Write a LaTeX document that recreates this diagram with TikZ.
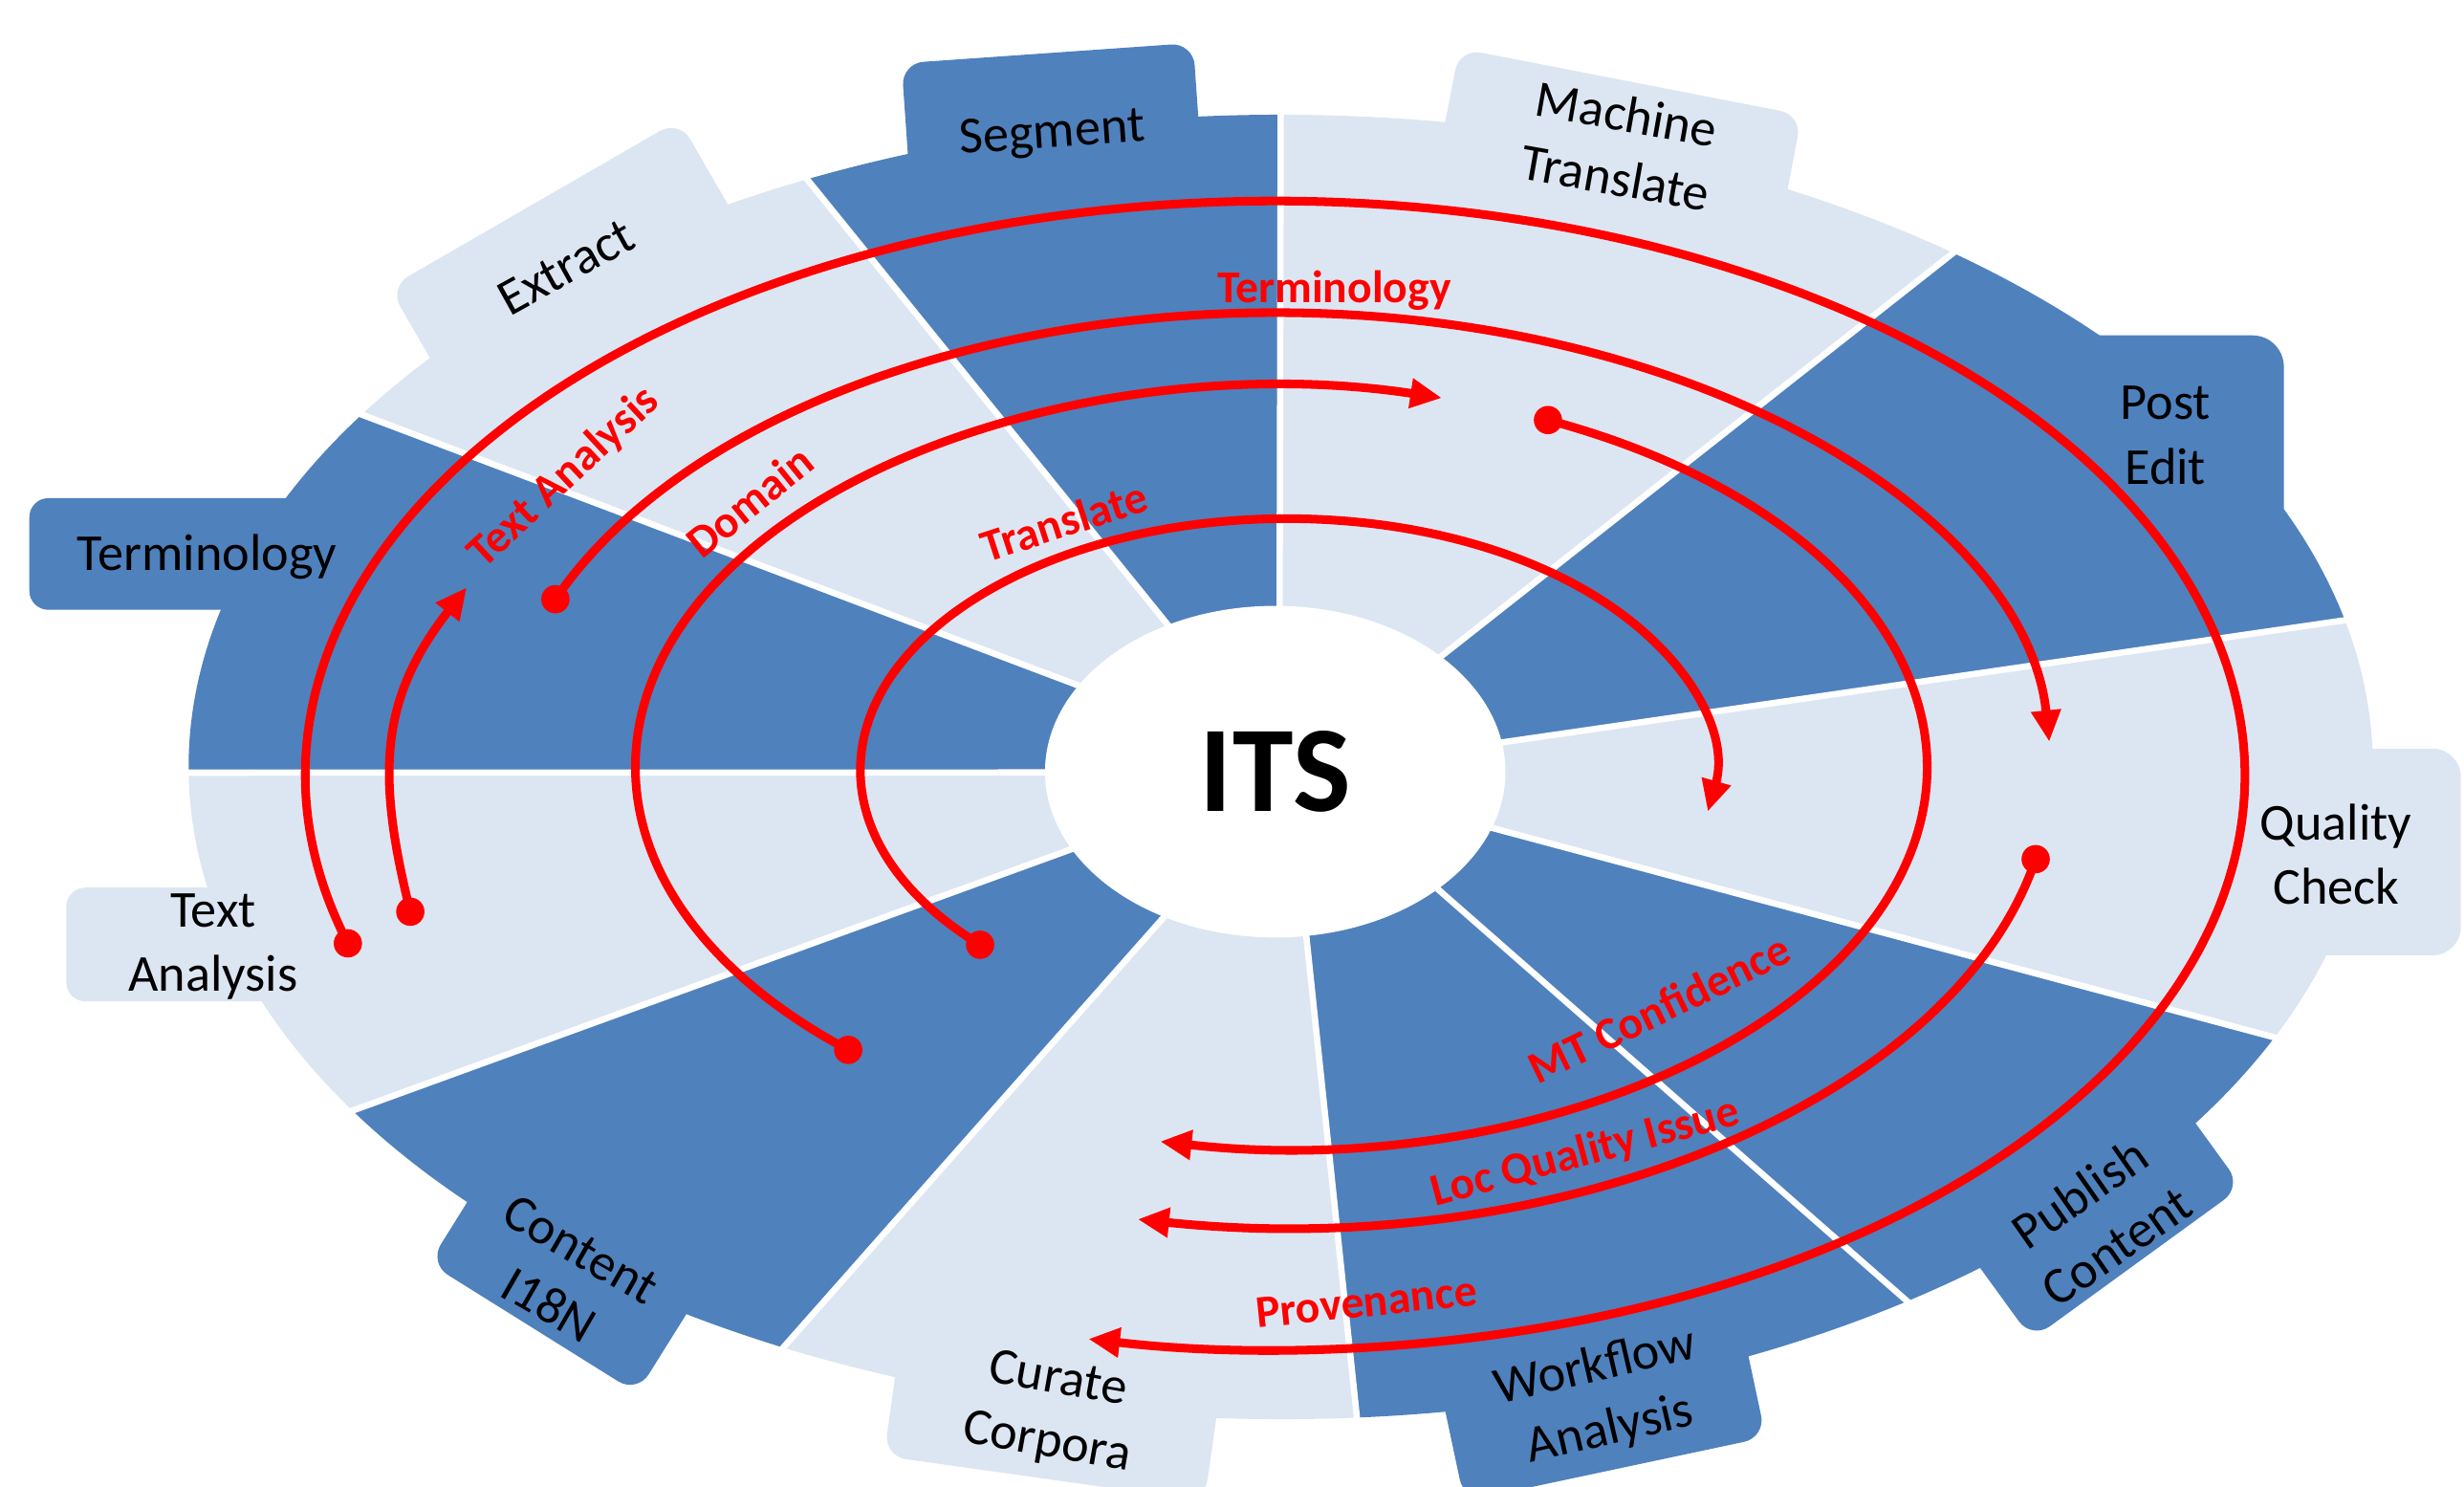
\documentclass[tikz,border=0pt]{standalone}
\usepackage{fontspec}
\setmainfont{Carlito}
\usetikzlibrary{calc,arrows.meta,shapes.geometric}
\definecolor{darkb}{HTML}{4F81BD}
\definecolor{lightb}{HTML}{DCE6F2}
\definecolor{fred}{HTML}{FF0000}
\newcommand\mysector[5]{%
  \fill[#1] (C) -- (J#2) -- (B#2) arc[start angle=#4, end angle=#5, x radius=695, y radius=415] -- (J#3) -- cycle;}
\begin{document}
\begin{tikzpicture}[x=1pt,y=1pt,
  tab/.style={rounded corners=14pt, inner sep=0pt, outer sep=0pt},
  lbl/.style={font=\fontsize{33}{41}\selectfont, align=center, text=black, inner sep=0pt},
  rlbl/.style={font=\bfseries\fontsize{29}{35}\selectfont, text=fred, inner sep=0pt},
  sepline/.style={white, line width=4pt},
  flow/.style={fred, line width=5.5pt, -{Triangle[length=20pt,width=18pt]}},
  dotc/.style={fill=fred}
]
\useasboundingbox (0,0) rectangle (1568,946);
\fill[white] (0,0) rectangle (1568,946);
\clip (0,0) rectangle (1568,946);

% ---------- tabs ----------
\node[tab, fill=darkb, minimum width=186pt, minimum height=110pt, rotate=4] (tseg) at (670.3,857.3) {};
\node[tab, fill=lightb, minimum width=222pt, minimum height=110pt, rotate=-11] (tmt) at (1027.2,840) {};
\node[tab, fill=darkb, rounded corners=20pt, minimum width=163.3pt, minimum height=142.6pt] (tpe) at (1371.7,661.3) {};
\node[tab, fill=lightb, rounded corners=18pt, minimum width=166pt, minimum height=131.5pt] (tqc) at (1483,403.9) {};
\node[tab, fill=darkb, minimum width=165pt, minimum height=130pt, rotate=36] (tpub) at (1321.6,194.9) {};
\node[tab, fill=darkb, minimum width=196pt, minimum height=140pt, rotate=12] (twf) at (1013.2,79.6) {};
\node[tab, fill=lightb, minimum width=206pt, minimum height=140pt, rotate=-8] (tcur) at (674.3,74.5) {};
\node[tab, fill=darkb, minimum width=156pt, minimum height=140pt, rotate=-32] (ti18n) at (376.3,160.3) {};
\node[tab, fill=lightb, rounded corners=12pt, minimum width=207.8pt, minimum height=72.3pt] (tta) at (146.1,345.05) {};
\node[tab, fill=darkb, rounded corners=12pt, minimum width=241.3pt, minimum height=71pt] (tterm) at (139.35,593.5) {};
\node[tab, fill=lightb, minimum width=213pt, minimum height=140pt, rotate=30] (textr) at (374.9,755.8) {};

% ---------- wheel geometry ----------
\coordinate (O) at (815,458);
\coordinate (C) at (811.5,455);
\foreach \n/\a in {1/90,2/52,3/13,4/-24.5,5/-55,6/-86,7/-117.1,8/-148.2,9/180.5,10/147.3,11/115.7}
  \coordinate (B\n) at ($(O)+(\a:695 and 415)$);
\coordinate (I1) at (814.3,560);
\coordinate (I2) at (917.1,528.4);
\coordinate (I3) at (955,473.5);
\coordinate (I4) at (950.3,419);
\coordinate (I5) at (915.6,379.7);
\coordinate (I6) at (831.2,351.1);
\coordinate (I7) at (740.5,362.3);
\coordinate (I8) at (678.6,404.5);
\coordinate (I9) at (665,454.5);
\coordinate (I10) at (684.7,510.4);
\coordinate (I11) at (743.5,548);
\foreach \n in {1,...,11}
  \coordinate (J\n) at ($(I\n)!-20pt!(B\n)$);

% ---------- sectors ----------
\mysector{lightb}{1}{2}{90}{52}
\mysector{darkb}{2}{3}{52}{13}
\mysector{lightb}{3}{4}{13}{-24.5}
\mysector{darkb}{4}{5}{-24.5}{-55}
\mysector{darkb}{5}{6}{-55}{-86}
\mysector{lightb}{6}{7}{-86}{-117.1}
\mysector{darkb}{7}{8}{-117.1}{-148.2}
\mysector{lightb}{8}{9}{-148.2}{-179.5}
\mysector{darkb}{9}{10}{180.5}{147.3}
\mysector{lightb}{10}{11}{147.3}{115.7}
\mysector{darkb}{11}{1}{115.7}{90}

\foreach \n in {1,...,11}
  \draw[sepline] (J\n) -- ($(B\n)!-8pt!(I\n)$);

% ---------- centre ----------
\node[ellipse, fill=white, minimum width=293pt, minimum height=211pt, inner sep=0pt,
      font=\bfseries\fontsize{78}{80}\selectfont] (its) at (811.5,455) {ITS};

% ---------- stage labels ----------
\node[lbl, rotate=4] (lseg) at (669.6,860) {Segment};
\node[lbl, rotate=-10] (lmt) at (1031.7,853.3) {Machine\\Translate};
\node[lbl] (lpe) at (1378,669) {Post\\Edit};
\node[lbl] (lqc) at (1486.5,402.5) {Quality\\Check};
\node[lbl, rotate=35] (lpub) at (1335,170) {Publish\\Content};
\node[lbl, rotate=13] (lwf) at (1020,56) {Workflow\\Analysis};
\node[lbl, rotate=-10] (lcur) at (669.6,47.4) {Curate\\Corpora};
\node[lbl, rotate=-30] (li18n) at (359.5,133.3) {Content\\I18N};
\node[lbl] (lta) at (135.7,343.5) {Text\\Analysis};
\node[lbl] (lterm) at (131.7,591.8) {Terminology};
\node[lbl, rotate=29] (lext) at (360,776) {Extract};

% ---------- red flows ----------
\coordinate (c1) at (811.4,452.6);
\coordinate (c3) at (811.4,456.3);
\coordinate (c4) at (815.3,457.9);
\coordinate (c5) at (819,456);
\coordinate (s1) at ($(c1)+(197:617 and 365.4)$);
\coordinate (s2) at (261.1,365.9);
\coordinate (e2) at (297,572.2);
\coordinate (s3) at ($(c3)+(158.1:493.6 and 290.7)$);
\coordinate (s7) at ($(c3)+(-11.3:493.6 and 290.7)$);
\coordinate (s4) at ($(c4)+(227.9:411 and 242.5)$);
\coordinate (s6) at ($(c4)+(65.6:411 and 242.5)$);
\coordinate (s5) at ($(c5)+(224:271.5 and 160)$);

\draw[flow] (s1) arc[start angle=197, end angle=-101.1, x radius=617, y radius=365.4];
\draw[flow] (s2) to[out=104, in=232, looseness=1.1] (e2);
\draw[flow] (s3) arc[start angle=158.1, end angle=3.5, x radius=493.6, y radius=290.7];
\draw[flow] (s7) arc[start angle=-11.3, end angle=-100.2, x radius=493.6, y radius=290.7];
\draw[flow] (s4) arc[start angle=227.9, end angle=75.6, x radius=411, y radius=242.5];
\draw[flow] (s6) arc[start angle=65.6, end angle=-100.8, x radius=411, y radius=242.5];
\draw[flow] (s5) arc[start angle=224, end angle=-9.5, x radius=271.5, y radius=160];
\foreach \p in {s1,s2,s3,s4,s5,s6,s7}
  \fill[dotc] (\p) circle[radius=9];

\node[rlbl] (fterm) at (849,761) {Terminology};
\node[rlbl, rotate=43] (ftext) at (359,642) {Text Analysis};
\node[rlbl, rotate=39] (fdom) at (477,627) {Domain};
\node[rlbl, rotate=18] (ftrans) at (677,614.4) {Translate};
\node[rlbl, rotate=26] (fmtc) at (1055.8,304.4) {MT Confidence};
\node[rlbl, rotate=15] (floc) at (1009,212.4) {Loc Quality Issue};
\node[rlbl, rotate=6] (fprov) at (869.5,117.5) {Provenance};
\end{tikzpicture}
\end{document}
